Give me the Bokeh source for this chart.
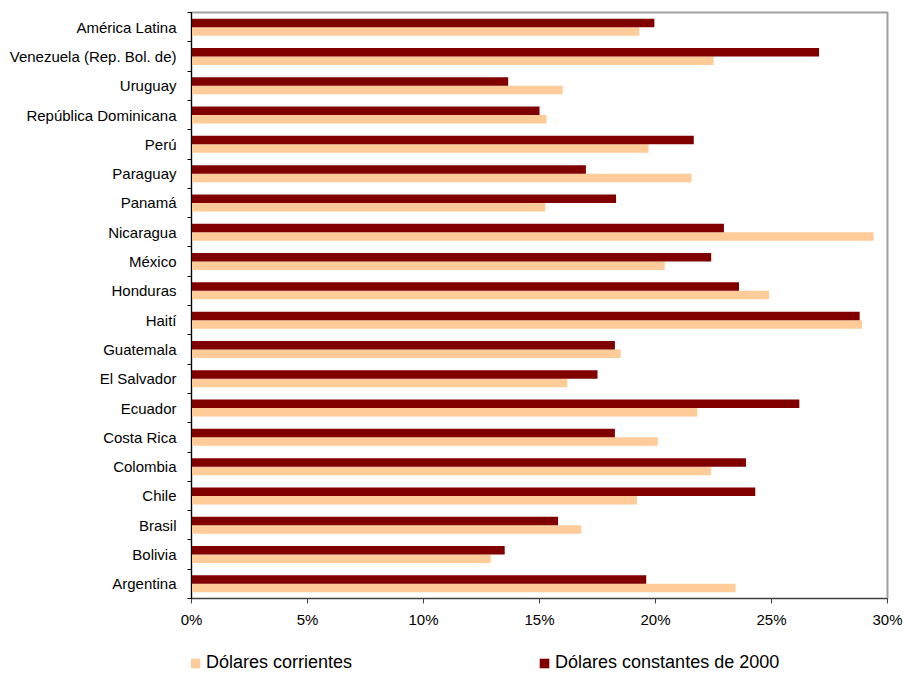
from bokeh.plotting import figure
from bokeh.layouts import column
from bokeh.models import Range1d, FixedTicker, Legend, LegendItem, ColumnDataSource
from bokeh.embed import file_html
from bokeh.resources import INLINE
import numpy as np

countries = ["América Latina", "Venezuela (Rep. Bol. de)", "Uruguay", "República Dominicana",
             "Perú", "Paraguay", "Panamá", "Nicaragua", "México", "Honduras", "Haití",
             "Guatemala", "El Salvador", "Ecuador", "Costa Rica", "Colombia", "Chile",
             "Brasil", "Bolivia", "Argentina"]
corrientes = [19.3, 22.5, 16.0, 15.3, 19.7, 21.55, 15.25, 29.4, 20.4, 24.9, 28.9,
              18.5, 16.2, 21.8, 20.1, 22.4, 19.2, 16.8, 12.9, 23.45]
constantes = [19.95, 27.05, 13.65, 15.0, 21.65, 17.0, 18.3, 22.95, 22.4, 23.6, 28.8,
              18.25, 17.5, 26.2, 18.25, 23.9, 24.3, 15.8, 13.5, 19.6]
x_ticks = [0, 5, 10, 15, 20, 25, 30]
x_labels = ["0%", "5%", "10%", "15%", "20%", "25%", "30%"]
series_names = ["Dólares corrientes", "Dólares constantes de 2000"]
colors = ["#FFCC99", "#800000"]

n = len(countries)
centers = (n - 1 - np.arange(n)) + 0.5
off = 0.145
bar_h = 0.29

src = ColumnDataSource(dict(
    y_dark=centers + off, y_light=centers - off,
    corr=corrientes, const=constantes))

FONT = "Liberation Sans"

p = figure(width=903, height=635, output_backend="svg", toolbar_location=None,
           x_range=Range1d(0, 30), y_range=Range1d(0, n),
           min_border_left=191, min_border_right=16, min_border_top=12, min_border_bottom=37)
p.background_fill_color = "white"
p.border_fill_color = "white"
p.outline_line_color = "#A0A0A0"
p.outline_line_width = 2
p.xgrid.visible = False
p.ygrid.visible = False

p.hbar(y="y_light", right="corr", left=0, height=bar_h, source=src,
       fill_color=colors[0], line_color=None)
p.hbar(y="y_dark", right="const", left=0, height=bar_h, source=src,
       fill_color=colors[1], line_color=None)

# x axis
xa = p.xaxis[0]
xa.ticker = FixedTicker(ticks=x_ticks)
xa.major_label_overrides = {t: l for t, l in zip(x_ticks, x_labels)}
xa.major_label_text_font = FONT
xa.major_label_text_font_size = "15px"
xa.major_label_text_color = "black"
xa.axis_line_color = "#404040"
xa.axis_line_width = 1
xa.major_tick_line_color = "#404040"
xa.major_tick_out = 5
xa.major_tick_in = 0
xa.minor_tick_line_color = None
xa.major_label_standoff = 7

# y axis
ya = p.yaxis[0]
ya.ticker = FixedTicker(ticks=list(centers), minor_ticks=list(range(n + 1)))
ya.major_label_overrides = {float(c): name for c, name in zip(centers, countries)}
ya.major_label_text_font = FONT
ya.major_label_text_font_size = "15px"
ya.major_label_text_color = "black"
ya.major_tick_line_color = None
ya.major_tick_out = 0
ya.major_tick_in = 0
ya.minor_tick_line_color = "black"
ya.minor_tick_out = 4
ya.minor_tick_in = 0
ya.axis_line_color = "black"
ya.major_label_standoff = 11

# legend strip (same bars, drawn out of view; only the legend shows)
pl = figure(width=903, height=38, output_backend="svg", toolbar_location=None,
            x_range=Range1d(0, 30), y_range=Range1d(1000, 1001),
            min_border=0, min_border_left=191, min_border_right=16)
pl.axis.visible = False
pl.grid.visible = False
pl.outline_line_color = None
pl.background_fill_color = "white"
pl.border_fill_color = "white"
r1 = pl.hbar(y="y_light", right="corr", left=0, height=bar_h, source=src,
             fill_color=colors[0], line_color=None)
r2 = pl.hbar(y="y_dark", right="const", left=0, height=bar_h, source=src,
             fill_color=colors[1], line_color=None)

legend = Legend(items=[LegendItem(label=series_names[0], renderers=[r1]),
                       LegendItem(label=series_names[1], renderers=[r2])],
                orientation="horizontal", location=(-2, 0))
legend.label_text_font = FONT
legend.label_text_font_size = "18px"
legend.label_text_color = "black"
legend.glyph_width = 12
legend.glyph_height = 12
legend.label_standoff = 5
legend.spacing = 186
legend.padding = 0
legend.margin = 0
legend.border_line_color = None
legend.background_fill_alpha = 0
pl.add_layout(legend, "center")

layout = column(p, pl, spacing=0)
open("out.html", "w").write(file_html(layout, INLINE))
